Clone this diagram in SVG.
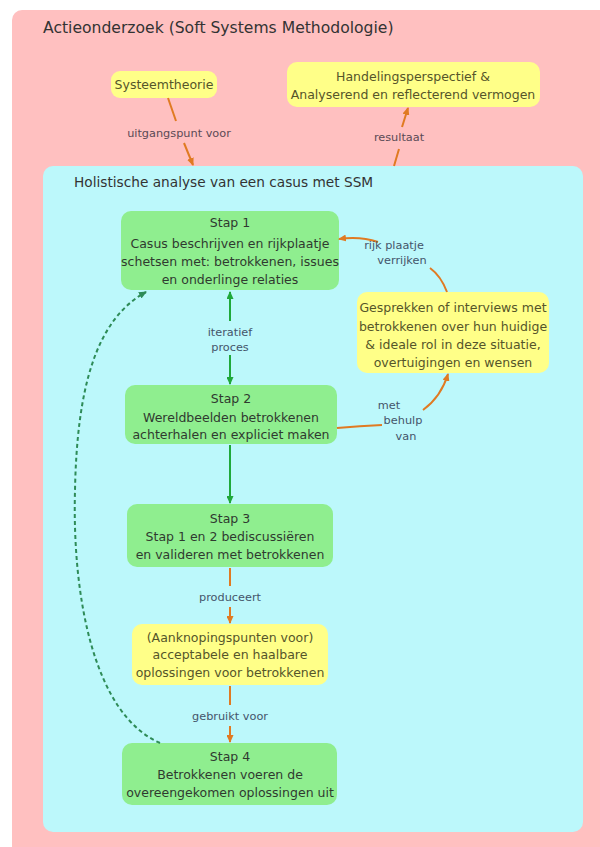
<svg xmlns="http://www.w3.org/2000/svg" width="600" height="847" viewBox="0 0 600 847">
<defs>
<style>
text{font-family:"DejaVu Sans",sans-serif;text-anchor:middle}
.title{font-size:15.6px;fill:#333;text-anchor:start}
.sub{font-size:13.7px;fill:#333;text-anchor:start}
.green{fill:#8fee8f}
.yellow{fill:#ffff88}
.nt{font-size:12.5px;fill:#2f3a2f}
.yt{font-size:12.5px;fill:#55552a}
.lbl{font-size:11.3px;fill:#44556a}
.lblp{font-size:11.3px;fill:#5a4a55}
.or{fill:none;stroke:#e07a22;stroke-width:2}
.gr{fill:none;stroke:#1fa83a;stroke-width:2}
.dash{fill:none;stroke:#2e8b57;stroke-width:2;stroke-dasharray:4 3}
</style>
<marker id="ao" viewBox="0 0 8 7" refX="7" refY="3.5" markerWidth="8" markerHeight="7" markerUnits="userSpaceOnUse" orient="auto"><path d="M0,0 L8,3.5 L0,7 z" fill="#e07a22"/></marker>
<marker id="ag" viewBox="0 0 8 7" refX="7" refY="3.5" markerWidth="8" markerHeight="7" markerUnits="userSpaceOnUse" orient="auto"><path d="M0,0 L8,3.5 L0,7 z" fill="#1fa83a"/></marker>
<marker id="ad" viewBox="0 0 8 7" refX="7" refY="3.5" markerWidth="8" markerHeight="7" markerUnits="userSpaceOnUse" orient="auto"><path d="M0,0 L8,3.5 L0,7 z" fill="#2e8b57"/></marker>
</defs>
<rect width="600" height="847" fill="#ffffff"/>
<g id="actieonderzoek">
<rect x="12" y="10" width="620" height="860" rx="10" fill="#ffc0c0"/>
<text class="title" x="43" y="33">Actieonderzoek (Soft Systems Methodologie)</text>
</g>
<g id="systeemtheorie">
<rect x="111" y="71" width="106" height="27" rx="9" class="yellow"/>
<text class="yt" x="164" y="89">Systeemtheorie</text>
</g>
<g id="handelingsperspectief">
<rect x="287" y="62" width="253" height="45" rx="10" class="yellow"/>
<text class="yt" x="413" y="81">Handelingsperspectief &amp;</text>
<text class="yt" x="413" y="99">Analyserend en reflecterend vermogen</text>
</g>
<g id="holistische-analyse">
<rect x="43" y="166" width="540" height="666" rx="10" fill="#bcf8fb"/>
<text class="sub" x="74" y="187">Holistische analyse van een casus met SSM</text>
</g>
<g id="stap1">
<rect x="121" y="211" width="218" height="79" rx="10" class="green"/>
<text class="nt" x="230" y="227">Stap 1</text>
<text class="nt" x="230" y="248">Casus beschrijven en rijkplaatje</text>
<text class="nt" x="230" y="266">schetsen met: betrokkenen, issues</text>
<text class="nt" x="230" y="284">en onderlinge relaties</text>
</g>
<g id="gesprekken">
<rect x="357" y="292" width="192" height="81" rx="10" class="yellow"/>
<text class="yt" x="453" y="312">Gesprekken of interviews met</text>
<text class="yt" x="453" y="331">betrokkenen over hun huidige</text>
<text class="yt" x="453" y="349">&amp; ideale rol in deze situatie,</text>
<text class="yt" x="453" y="367">overtuigingen en wensen</text>
</g>
<g id="stap2">
<rect x="125" y="385" width="212" height="59" rx="10" class="green"/>
<text class="nt" x="231" y="403">Stap 2</text>
<text class="nt" x="231" y="422">Wereldbeelden betrokkenen</text>
<text class="nt" x="231" y="439">achterhalen en expliciet maken</text>
</g>
<g id="stap3">
<rect x="127" y="504" width="206" height="63" rx="10" class="green"/>
<text class="nt" x="230" y="523">Stap 3</text>
<text class="nt" x="230" y="541">Stap 1 en 2 bediscussiëren</text>
<text class="nt" x="230" y="559">en valideren met betrokkenen</text>
</g>
<g id="aanknopingspunten">
<rect x="132" y="624" width="196" height="61" rx="10" class="yellow"/>
<text class="yt" x="230" y="642">(Aanknopingspunten voor)</text>
<text class="yt" x="230" y="659">acceptabele en haalbare</text>
<text class="yt" x="230" y="677">oplossingen voor betrokkenen</text>
</g>
<g id="stap4">
<rect x="122" y="743" width="215" height="62" rx="10" class="green"/>
<text class="nt" x="230" y="761">Stap 4</text>
<text class="nt" x="230" y="779">Betrokkenen voeren de</text>
<text class="nt" x="230" y="797">overeengekomen oplossingen uit</text>
</g>
<g id="connectors">
<path class="or" d="M168,98 L176,121"/>
<path class="or" d="M184,143 L193,165" marker-end="url(#ao)"/>
<text class="lblp" x="179" y="137">uitgangspunt voor</text>
<path class="or" d="M394,166 L399,149"/>
<path class="or" d="M402,127 L408,108" marker-end="url(#ao)"/>
<text class="lblp" x="399" y="141">resultaat</text>
<path class="gr" d="M230,321 L230,292" marker-end="url(#ag)"/>
<path class="gr" d="M230,355 L230,384" marker-end="url(#ag)"/>
<text class="lbl" x="230" y="336">iteratief</text>
<text class="lbl" x="230" y="351">proces</text>
<path class="gr" d="M230,445 L230,503" marker-end="url(#ag)"/>
<path class="or" d="M230,568 L230,586"/>
<path class="or" d="M230,607 L230,623" marker-end="url(#ao)"/>
<text class="lbl" x="230" y="601">produceert</text>
<path class="or" d="M230,686 L230,705"/>
<path class="or" d="M230,726 L230,742" marker-end="url(#ao)"/>
<text class="lbl" x="230" y="720">gebruikt voor</text>
<path class="or" d="M337,428 Q360,426 382,425"/>
<path class="or" d="M423,410 Q441,397 448,374" marker-end="url(#ao)"/>
<text class="lbl" x="389" y="409">met</text>
<text class="lbl" x="403" y="424">behulp</text>
<text class="lbl" x="406" y="440">van</text>
<path class="or" d="M447,292 Q441,276 430,268"/>
<path class="or" d="M378,242 Q360,236 339,239" marker-end="url(#ao)"/>
<text class="lbl" x="394" y="249">rijk plaatje</text>
<text class="lbl" x="402" y="264">verrijken</text>
<path class="dash" d="M160,743 C95,715 72,600 75,490 C77,390 95,320 146,292" marker-end="url(#ad)"/>
</g>
</svg>
